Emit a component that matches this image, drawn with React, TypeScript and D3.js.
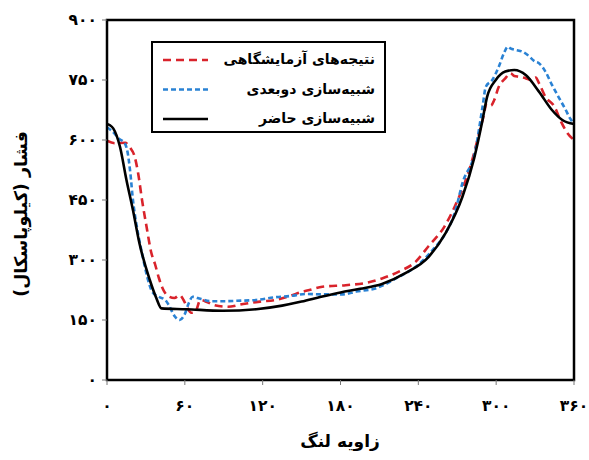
import React from "react";
import * as d3 from "d3";

const xTicks = [0, 60, 120, 180, 240, 300, 360];
const yTicks = [0, 150, 300, 450, 600, 750, 900];

const expAngle = [0, 6, 14, 18, 21, 24, 27, 30.5, 34, 37, 40, 43, 47, 52, 56, 59, 62, 65, 68, 72, 77, 83, 93, 105, 118, 130, 141, 150, 156, 166, 184, 200, 212, 225, 238, 248, 260, 268, 280, 289.5, 293, 296, 298.5, 302, 307, 311, 314, 318, 323, 327, 330.5, 333, 338, 345, 350, 355, 360];
const expValue = [598, 592, 593, 580, 562, 517, 450, 383, 320, 290, 255, 228, 210, 205, 212, 200, 180, 168, 170, 200, 195, 187, 183, 190, 196, 200, 210, 220, 225, 233, 237, 243, 254, 271, 296, 335, 383, 433, 533, 650, 692, 686, 700, 733, 754, 767, 760, 758, 754, 750, 756, 742, 708, 683, 646, 617, 600];

const twoDAngle = [0, 4, 9, 14, 16, 18, 20, 23, 27, 31, 35, 40, 45, 48, 52, 56, 60, 63, 66, 72, 80, 90, 100, 115, 130, 141, 154, 166, 182, 192, 207, 225, 238, 251, 261, 268, 274, 284, 289.5, 292, 297, 302, 306, 309, 311, 315, 320, 324, 330, 333, 338, 343, 348, 353, 357, 360];
const twoDValue = [632, 622, 604, 590, 567, 517, 450, 383, 317, 258, 220, 208, 200, 185, 160, 150, 165, 192, 208, 203, 197, 197, 198, 200, 207, 210, 215, 214, 214, 221, 229, 258, 283, 325, 367, 417, 492, 575, 683, 733, 750, 783, 817, 833, 829, 825, 821, 813, 796, 792, 771, 738, 708, 679, 654, 640];

const presAngle = [0, 2.3, 4.8, 10, 15, 20, 25, 33, 38, 42, 61, 89, 115, 135, 150, 165, 180, 195, 212, 230, 248, 261, 274, 283, 289.5, 293, 299.7, 307, 314, 323, 333, 343, 351, 360];
const presValue = [640, 637, 629, 583, 500, 425, 342, 250, 205, 179, 177, 173, 177, 186, 196, 208, 219, 228, 240, 267, 308, 367, 458, 554, 650, 708, 750, 771, 775, 762, 721, 675, 650, 640];

const seriesNames = ["نتیجه‌های آزمایشگاهی", "شبیه‌سازی دوبعدی", "شبیه‌سازی حاضر"];
const xTitle = "زاویه لنگ";
const yTitle = "فشار (کیلوپاسکال)";

const FONT = "DejaVu Sans";
const toFa = (n: number) => String(n).replace(/\d/g, (d) => "۰۱۲۳۴۵۶۷۸۹"[+d]);

export default function App() {
  const W = 589, H = 460;
  const L = 107, R = 574, T = 20, B = 380;
  const x = d3.scaleLinear().domain([0, 360]).range([L, R]);
  const y = d3.scaleLinear().domain([0, 900]).range([B, T]);
  const line = d3.line<[number, number]>().x((d) => x(d[0])).y((d) => y(d[1])).curve(d3.curveMonotoneX);
  const zip = (a: number[], b: number[]) => a.map((v, i) => [v, b[i]] as [number, number]);

  const series = [
    { name: seriesNames[0], pts: zip(expAngle, expValue), color: "#d9232b", dash: "8,5" },
    { name: seriesNames[1], pts: zip(twoDAngle, twoDValue), color: "#2a82d4", dash: "5,3" },
    { name: seriesNames[2], pts: zip(presAngle, presValue), color: "#000000", dash: "" },
  ];

  return (
    <svg width={W} height={H} style={{ position: "absolute", left: 0, top: 0 }} fontFamily={FONT}>
      <rect x={0} y={0} width={W} height={H} fill="#fff" />
      {series.map((s, i) => (
        <path key={i} d={line(s.pts) || ""} fill="none" stroke={s.color} strokeWidth={2.6}
          strokeDasharray={s.dash || undefined} />
      ))}
      <rect x={L} y={T} width={R - L} height={B - T} fill="none" stroke="#000" strokeWidth={2.5} />
      {yTicks.map((t) => (
        <g key={"y" + t}>
          <line x1={L - 5} x2={L} y1={y(t)} y2={y(t)} stroke="#777" strokeWidth={1} />
          <text x={L - 10} y={y(t)} dy="0.35em" textAnchor="end" fontSize={15.5} fontWeight="bold">{toFa(t)}</text>
        </g>
      ))}
      {xTicks.map((t) => (
        <g key={"x" + t}>
          <line x1={x(t)} x2={x(t)} y1={B} y2={B + 5} stroke="#777" strokeWidth={1} />
          <text x={x(t)} y={411} textAnchor="middle" fontSize={15.5} fontWeight="bold">{toFa(t)}</text>
        </g>
      ))}
      <text x={340} y={447} textAnchor="middle" fontSize={17} fontWeight="bold" direction="rtl">{xTitle}</text>
      <text transform="translate(27,214) rotate(-90)" textAnchor="middle" fontSize={17.5} fontWeight="bold" direction="rtl">{yTitle}</text>
      <rect x={152} y={42} width={233} height={90} fill="#fff" stroke="#000" strokeWidth={2} />
      {series.map((s, i) => {
        const ly = 60 + i * 29.5;
        return (
          <g key={"lg" + i}>
            <line x1={163} x2={208} y1={ly} y2={ly} stroke={s.color} strokeWidth={2.6} strokeDasharray={s.dash || undefined} />
            <text x={375} y={ly} dy="0.3em" textAnchor="start" direction="rtl" fontSize={14} fontWeight="bold">{s.name}</text>
          </g>
        );
      })}
    </svg>
  );
}
